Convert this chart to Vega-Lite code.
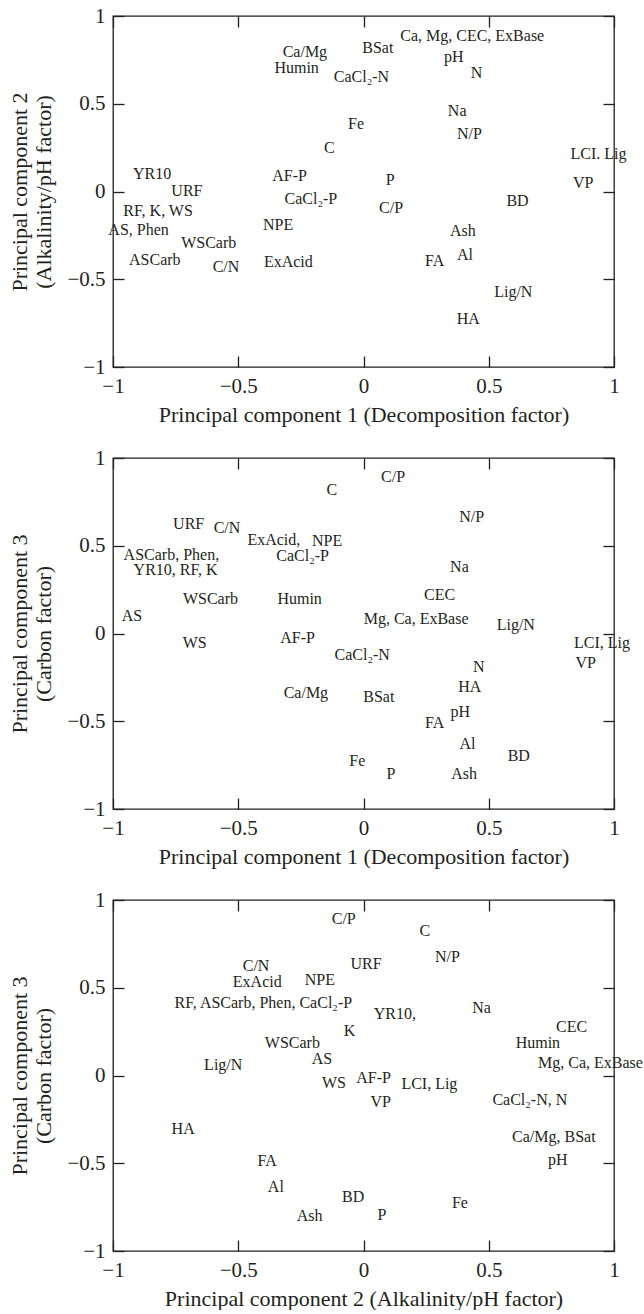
{
  "$schema": "https://vega.github.io/schema/vega-lite/v6.json",
  "padding": {"left": 8, "top": 4, "right": 0, "bottom": 0},
  "background": "white",
  "config": {
    "view": {"stroke": "#231f20", "strokeWidth": 1.3},
    "font": "Liberation Serif",
    "axis": {
      "domain": false, "grid": false,
      "tickColor": "#231f20", "tickSize": -11, "tickWidth": 1.3,
      "labelFont": "Liberation Serif", "labelFontSize": 21, "labelColor": "#231f20",
      "labelPadding": 19, "labelFlush": false, "labelOverlap": false,
      "titleFont": "Liberation Serif", "titleFontSize": 22, "titleFontWeight": "normal", "titleColor": "#231f20",
      "titleLineHeight": 24,
      "format": "~g"
    },
    "axisX": {"titlePadding": 8},
    "axisY": {"titlePadding": 11},
    "text": {"font": "Liberation Serif", "fontSize": 16, "color": "#231f20"}
  },
  "datasets": {
    "p1": [
      {"label": "Ca, Mg, CEC, ExBase", "x": 0.434, "y": 0.886},
      {"label": "Ca/Mg", "x": -0.234, "y": 0.797},
      {"label": "BSat", "x": 0.057, "y": 0.82},
      {"label": "Humin", "x": -0.267, "y": 0.706},
      {"label": "CaCl₂-N", "x": -0.008, "y": 0.655},
      {"label": "pH", "x": 0.36, "y": 0.768},
      {"label": "N", "x": 0.451, "y": 0.674},
      {"label": "Na", "x": 0.374, "y": 0.459},
      {"label": "Fe", "x": -0.03, "y": 0.383},
      {"label": "N/P", "x": 0.423, "y": 0.326},
      {"label": "C", "x": -0.136, "y": 0.247},
      {"label": "LCI. Lig", "x": 0.938, "y": 0.213},
      {"label": "YR10", "x": -0.844, "y": 0.1},
      {"label": "AF-P", "x": -0.295, "y": 0.089},
      {"label": "P", "x": 0.107, "y": 0.063},
      {"label": "VP", "x": 0.877, "y": 0.047},
      {"label": "URF", "x": -0.705, "y": 0.004},
      {"label": "CaCl₂-P", "x": -0.21, "y": -0.042},
      {"label": "C/P", "x": 0.11, "y": -0.095},
      {"label": "BD", "x": 0.615, "y": -0.053},
      {"label": "RF, K, WS", "x": -0.82, "y": -0.112},
      {"label": "AS, Phen", "x": -0.898, "y": -0.22},
      {"label": "NPE", "x": -0.341, "y": -0.191},
      {"label": "WSCarb", "x": -0.618, "y": -0.292},
      {"label": "ASCarb", "x": -0.833, "y": -0.39},
      {"label": "C/N", "x": -0.549, "y": -0.432},
      {"label": "ExAcid", "x": -0.3, "y": -0.4},
      {"label": "Ash", "x": 0.397, "y": -0.224},
      {"label": "FA", "x": 0.284, "y": -0.394},
      {"label": "Al", "x": 0.405, "y": -0.362},
      {"label": "Lig/N", "x": 0.598, "y": -0.574},
      {"label": "HA", "x": 0.418, "y": -0.725}
    ],
    "p2": [
      {"label": "C/P", "x": 0.118, "y": 0.89},
      {"label": "C", "x": -0.126, "y": 0.816},
      {"label": "N/P", "x": 0.432, "y": 0.664},
      {"label": "URF", "x": -0.698, "y": 0.626},
      {"label": "C/N", "x": -0.545, "y": 0.6},
      {"label": "ExAcid,", "x": -0.358, "y": 0.531},
      {"label": "NPE", "x": -0.145, "y": 0.529},
      {"label": "CaCl₂-P", "x": -0.243, "y": 0.44},
      {"label": "ASCarb, Phen,", "x": -0.767, "y": 0.448},
      {"label": "YR10, RF, K", "x": -0.75, "y": 0.362},
      {"label": "Na", "x": 0.383, "y": 0.378},
      {"label": "CEC", "x": 0.304, "y": 0.222},
      {"label": "WSCarb", "x": -0.611, "y": 0.194},
      {"label": "Humin", "x": -0.255, "y": 0.199},
      {"label": "AS", "x": -0.924, "y": 0.099},
      {"label": "Mg, Ca, ExBase", "x": 0.21, "y": 0.083},
      {"label": "Lig/N", "x": 0.608, "y": 0.046},
      {"label": "WS", "x": -0.674, "y": -0.053},
      {"label": "AF-P", "x": -0.263, "y": -0.025},
      {"label": "CaCl₂-N", "x": -0.005, "y": -0.125},
      {"label": "LCI, Lig", "x": 0.952, "y": -0.053},
      {"label": "VP", "x": 0.887, "y": -0.166},
      {"label": "N", "x": 0.46, "y": -0.19},
      {"label": "HA", "x": 0.424, "y": -0.304},
      {"label": "Ca/Mg", "x": -0.23, "y": -0.34},
      {"label": "BSat", "x": 0.061, "y": -0.36},
      {"label": "pH", "x": 0.386, "y": -0.449},
      {"label": "FA", "x": 0.284, "y": -0.51},
      {"label": "Al", "x": 0.415, "y": -0.628},
      {"label": "BD", "x": 0.62, "y": -0.698},
      {"label": "Fe", "x": -0.025, "y": -0.726},
      {"label": "P", "x": 0.11, "y": -0.798},
      {"label": "Ash", "x": 0.402, "y": -0.798}
    ],
    "p3": [
      {"label": "C/P", "x": -0.079, "y": 0.892},
      {"label": "C", "x": 0.245, "y": 0.825},
      {"label": "N/P", "x": 0.335, "y": 0.674},
      {"label": "C/N", "x": -0.429, "y": 0.624},
      {"label": "URF", "x": 0.01, "y": 0.636},
      {"label": "ExAcid", "x": -0.424, "y": 0.535},
      {"label": "NPE", "x": -0.174, "y": 0.545},
      {"label": "RF,  ASCarb, Phen, CaCl₂-P", "x": -0.4, "y": 0.412},
      {"label": "YR10,", "x": 0.125, "y": 0.349},
      {"label": "Na", "x": 0.471, "y": 0.383},
      {"label": "K", "x": -0.056, "y": 0.256},
      {"label": "CEC", "x": 0.831, "y": 0.279},
      {"label": "Humin", "x": 0.696, "y": 0.188},
      {"label": "WSCarb", "x": -0.284, "y": 0.188},
      {"label": "AS", "x": -0.166, "y": 0.093},
      {"label": "Lig/N", "x": -0.56, "y": 0.057},
      {"label": "Mg, Ca, ExBase", "x": 0.906, "y": 0.074},
      {"label": "WS", "x": -0.118, "y": -0.041},
      {"label": "AF-P", "x": 0.04, "y": -0.016},
      {"label": "LCI, Lig", "x": 0.263, "y": -0.05},
      {"label": "VP", "x": 0.069, "y": -0.153},
      {"label": "CaCl₂-N, N", "x": 0.664, "y": -0.137},
      {"label": "HA", "x": -0.72, "y": -0.303},
      {"label": "Ca/Mg, BSat", "x": 0.76, "y": -0.353},
      {"label": "pH", "x": 0.776, "y": -0.481},
      {"label": "FA", "x": -0.385, "y": -0.49},
      {"label": "Al", "x": -0.35, "y": -0.634},
      {"label": "BD", "x": -0.041, "y": -0.695},
      {"label": "Fe", "x": 0.385, "y": -0.729},
      {"label": "Ash", "x": -0.215, "y": -0.802},
      {"label": "P", "x": 0.074, "y": -0.796}
    ]
  },
  "spacing": 91,
  "bounds": "flush",
  "vconcat": [
    {
      "width": 501, "height": 351,
      "data": {"name": "p1"},
      "layer": [
        {
          "mark": {"type": "text", "align": "center", "baseline": "middle"},
          "encoding": {
            "x": {"field": "x", "type": "quantitative", "scale": {"domain": [-1, 1], "nice": false, "zero": false},
                  "axis": {"orient": "bottom", "values": [-1, -0.5, 0, 0.5, 1], "title": "Principal component 1 (Decomposition factor)"}},
            "y": {"field": "y", "type": "quantitative", "scale": {"domain": [-1, 1], "nice": false, "zero": false},
                  "axis": {"orient": "left", "values": [-1, -0.5, 0, 0.5, 1], "title": ["Principal component 2", "(Alkalinity/pH factor)"]}},
            "text": {"field": "label"}
          }
        },
        {
          "mark": {"type": "text", "opacity": 0},
          "encoding": {
            "x": {"field": "x", "type": "quantitative", "scale": {"domain": [-1, 1], "nice": false, "zero": false},
                  "axis": {"orient": "top", "values": [-1, -0.5, 0, 0.5, 1], "labels": false, "title": null}},
            "y": {"field": "y", "type": "quantitative", "scale": {"domain": [-1, 1], "nice": false, "zero": false},
                  "axis": {"orient": "right", "values": [-1, -0.5, 0, 0.5, 1], "labels": false, "title": null}},
            "text": {"field": "label"}
          }
        }
      ],
      "resolve": {"axis": {"x": "independent", "y": "independent"}}
    },
    {
      "width": 501, "height": 351,
      "data": {"name": "p2"},
      "layer": [
        {
          "mark": {"type": "text", "align": "center", "baseline": "middle"},
          "encoding": {
            "x": {"field": "x", "type": "quantitative", "scale": {"domain": [-1, 1], "nice": false, "zero": false},
                  "axis": {"orient": "bottom", "values": [-1, -0.5, 0, 0.5, 1], "title": "Principal component 1 (Decomposition factor)"}},
            "y": {"field": "y", "type": "quantitative", "scale": {"domain": [-1, 1], "nice": false, "zero": false},
                  "axis": {"orient": "left", "values": [-1, -0.5, 0, 0.5, 1], "title": ["Principal component 3", "(Carbon factor)"]}},
            "text": {"field": "label"}
          }
        },
        {
          "mark": {"type": "text", "opacity": 0},
          "encoding": {
            "x": {"field": "x", "type": "quantitative", "scale": {"domain": [-1, 1], "nice": false, "zero": false},
                  "axis": {"orient": "top", "values": [-1, -0.5, 0, 0.5, 1], "labels": false, "title": null}},
            "y": {"field": "y", "type": "quantitative", "scale": {"domain": [-1, 1], "nice": false, "zero": false},
                  "axis": {"orient": "right", "values": [-1, -0.5, 0, 0.5, 1], "labels": false, "title": null}},
            "text": {"field": "label"}
          }
        }
      ],
      "resolve": {"axis": {"x": "independent", "y": "independent"}}
    },
    {
      "width": 501, "height": 351,
      "data": {"name": "p3"},
      "layer": [
        {
          "mark": {"type": "text", "align": "center", "baseline": "middle"},
          "encoding": {
            "x": {"field": "x", "type": "quantitative", "scale": {"domain": [-1, 1], "nice": false, "zero": false},
                  "axis": {"orient": "bottom", "values": [-1, -0.5, 0, 0.5, 1], "title": "Principal component 2 (Alkalinity/pH factor)"}},
            "y": {"field": "y", "type": "quantitative", "scale": {"domain": [-1, 1], "nice": false, "zero": false},
                  "axis": {"orient": "left", "values": [-1, -0.5, 0, 0.5, 1], "title": ["Principal component 3", "(Carbon factor)"]}},
            "text": {"field": "label"}
          }
        },
        {
          "mark": {"type": "text", "opacity": 0},
          "encoding": {
            "x": {"field": "x", "type": "quantitative", "scale": {"domain": [-1, 1], "nice": false, "zero": false},
                  "axis": {"orient": "top", "values": [-1, -0.5, 0, 0.5, 1], "labels": false, "title": null}},
            "y": {"field": "y", "type": "quantitative", "scale": {"domain": [-1, 1], "nice": false, "zero": false},
                  "axis": {"orient": "right", "values": [-1, -0.5, 0, 0.5, 1], "labels": false, "title": null}},
            "text": {"field": "label"}
          }
        }
      ],
      "resolve": {"axis": {"x": "independent", "y": "independent"}}
    }
  ]
}
